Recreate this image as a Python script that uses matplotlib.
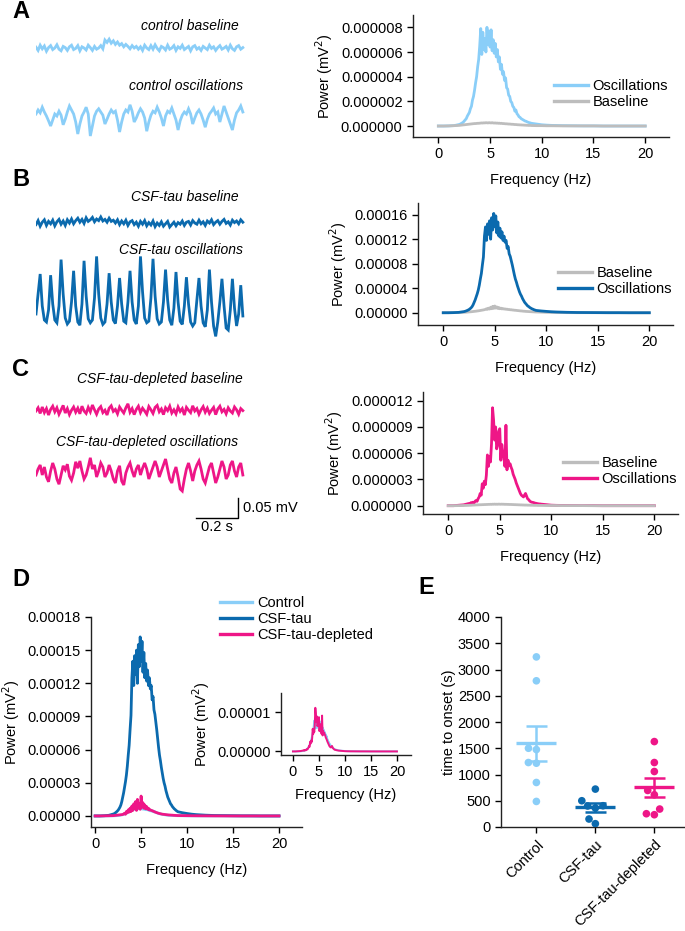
import numpy as np
import matplotlib
matplotlib.use("Agg")
import matplotlib.pyplot as plt
from matplotlib.ticker import FormatStrFormatter
import seaborn as sns

plt.rcParams.update({
    "font.family": ["Liberation Sans", "DejaVu Sans"],
    "font.size": 10.5,
    "axes.linewidth": 1.0,
    "axes.edgecolor": "#222222",
    "xtick.major.size": 4,
    "ytick.major.size": 4,
    "xtick.major.width": 1.0,
    "ytick.major.width": 1.0,
    "xtick.labelsize": 10.5,
    "ytick.labelsize": 10.5,
    "axes.labelsize": 10.5,
})

W, H = 685, 931
CTRL = "#8ACEF8"
TAU = "#0B6AAE"
DEPL = "#EE1687"
GRAY = "#BDBDBD"

# -- raw traces (uV, sampled across ~1 s) --
A_BASE_UV = [2, -6, 7, -2, 5, -8, 1, 6, -4, 0, 8, -3, -7, 4, 1, -6, 3, 7, -4, -1,
             6, -7, 3, 0, -5, 7, 1, -6, 4, -3, 0, 6, -2, 20, 14, 22, 12, 18, 9, 15,
             7, 11, 3, 9, 4, -2, 6, 0, 4, -3, 3, -6, 7, 0, -4, 6, -3, 8, -1, -7,
             4, 1, -5, 7, -3, 0, 6, -6, 3, -1, 7, -4, 0, 4, -7, 3, 6, -3, 1, -6,
             4, 0, -4, 7, -1, 3, -6, 1, 6, -3, 0, 4, -5, 7, -2, -6, 3, 6, -3, 1]
A_OSC_UV = [5, 15, 8, 22, 10, 0, -12, -25, -10, 5, 0, 12, 2, -22, -8, 10, 25, 15, 5, -15,
            -45, -20, 0, 10, 22, 5, -50, -25, 0, 12, 18, 10, 2, -20, -8, 5, 15, 8, 12, -10,
            -40, -15, 5, 15, 10, 28, 12, -15, -5, 8, 18, 10, -5, -38, -15, 2, 12, 8, 22, 10,
            -5, -25, 0, 12, 8, 20, 5, -10, -35, -12, 2, 10, 5, 18, 5, -20, -5, 8, 15, 5,
            -10, -28, -8, 5, 12, 20, 5, 10, -15, 5, 25, 10, -5, -20, -35, -10, 8, 15, 25, 10]
B_BASE_UV = [-4, 6, -8, 2, 8, -6, 4, -2, 7, -7, 3, 9, -3, 5, -6, 8, 0, 10, -2, 6,
             12, 2, 9, -1, 13, 4, 8, 14, 3, 10, 6, 15, 5, 9, 2, 12, 4, 7, 0, 8,
             -4, 5, -2, 7, -6, 3, 6, -4, 2, -8, 4, -3, 6, -7, 1, -5, 5, -9, 0, -6,
             3, -8, -2, 4, -10, -4, 2, -7, 1, -3, 5, -6, 2, 4, -5, 6, 0, -3, 7, -2,
             3, -6, 5, 0, 8, -4, 2, 6, -3, 4, 9, -1, 3, -5, 7, 1, 5, -2, 8, 2]
B_OSC_UV = [-40, 10, 60, -20, -55, -60, -30, 57, -15, -55, -62, -20, 96, 10, -50, -65, -58, -10, 68, -20,
            -60, -68, -15, 93, 5, -52, -62, -55, 0, 104, 10, -50, -66, -60, -15, 62, -10, -55, -64, -20,
            50, -15, -58, -62, -10, 68, -10, -55, -65, -20, 104, 15, -50, -62, -58, 0, 98, 5, -52, -65,
            -60, -10, 71, -5, -55, -68, -25, 65, -10, -58, -66, -20, 52, -15, -60, -70, -62, -5, 50, -20,
            -62, -72, -30, 71, -10, -70, -96, -60, -10, 48, -20, -75, -80, -30, 48, -25, -70, -40, 32, -45]
C_BASE_UV = [0, 8, -6, 10, -4, 6, -10, 4, 12, -2, 8, -8, 3, 14, -5, 6, -9, 2, 10, -3,
             7, -7, 12, 0, -6, 9, -2, 15, 3, -8, 5, 11, -4, 2, -10, 7, 13, -1, 4, -7,
             10, 2, -5, 8, 18, -3, 6, -9, 4, 12, -4, 7, 0, -8, 11, 3, -6, 9, 14, -2,
             5, -9, 8, 1, 12, -5, 3, -7, 10, -1, 6, -10, 9, 2, -4, 13, 0, 6, -8, 3,
             11, -3, 7, -6, 2, 9, -9, 5, 12, -2, 4, -7, 8, 0, -5, 10, 3, -8, 6, 1]
C_OSC_UV = [-5, 10, 20, -5, 15, -10, -22, 5, 25, 10, -15, -28, -5, 18, 8, 22, -8, -18, 0, 28,
            12, 30, 5, -15, -5, 15, 38, 10, 20, -10, 5, 25, 15, -10, 0, 20, 5, -15, -25, 5,
            18, -20, -30, 0, 15, 25, 5, -10, 10, 20, -5, 12, 25, 10, -15, 0, 15, 30, 15, -10,
            5, 20, 35, 10, -15, -25, 0, 15, -10, -40, -45, -15, 10, 25, 5, -20, 5, 20, 30, 10,
            -15, -25, -5, 15, 25, 0, -25, -10, 10, 30, 15, -15, -5, 20, 30, 5, -10, 15, 25, -5]
TRACE_DURATION_S = 0.985

# -- power spectra (units of 1e-6 mV^2) --
FREQ_HZ = [0.0, 0.5, 1.0, 1.5] + [round(2.0 + 0.1 * i, 1) for i in range(71)] + \
          [9.5, 10.0, 10.5, 11.0, 12.0, 13.0, 14.0, 15.0, 16.0, 17.0, 18.0, 19.0, 20.0]

A_OSC_PSD = [0, 0, 0.01, 0.03,
             0.12, 0.15, 0.2, 0.25, 0.3, 0.4, 0.5, 0.6, 0.8, 0.95,
             1.1, 1.4, 1.6, 2.1, 2.4, 2.9, 3.5, 4.0, 4.8, 5.4,
             6.5, 7.9, 5.8, 7.6, 6.2, 7.1, 6.0, 8.0, 6.6, 7.7,
             6.4, 7.8, 6.1, 7.0, 5.9, 6.7, 5.6, 6.2, 5.2, 5.6,
             4.6, 5.0, 4.2, 4.4, 3.7, 3.9, 3.1, 3.0, 2.5, 2.4,
             2.0, 1.9, 1.6, 1.5, 1.2, 1.3, 1.0, 0.9, 0.75, 0.7,
             0.6, 0.55, 0.5, 0.45, 0.4, 0.38, 0.33, 0.3, 0.27, 0.25, 0.22,
             0.16, 0.1, 0.07, 0.05, 0.03, 0.02, 0.01, 0.01, 0, 0, 0, 0, 0]
A_BASE_PSD = [0, 0, 0.01, 0.03,
              0.05, 0.06, 0.07, 0.08, 0.09, 0.1, 0.11, 0.12, 0.13, 0.14,
              0.15, 0.16, 0.17, 0.18, 0.19, 0.2, 0.2, 0.21, 0.22, 0.22,
              0.23, 0.24, 0.25, 0.24, 0.26, 0.25, 0.27, 0.26, 0.25, 0.27,
              0.26, 0.25, 0.27, 0.25, 0.24, 0.25, 0.23, 0.24, 0.22, 0.23,
              0.21, 0.22, 0.2, 0.2, 0.19, 0.18, 0.18, 0.17, 0.16, 0.16,
              0.15, 0.14, 0.14, 0.13, 0.12, 0.12, 0.11, 0.1, 0.1, 0.09,
              0.09, 0.08, 0.08, 0.07, 0.07, 0.06, 0.06, 0.05, 0.05, 0.05, 0.04,
              0.03, 0.03, 0.02, 0.02, 0.01, 0.01, 0.01, 0.01, 0, 0, 0, 0, 0]
B_OSC_PSD = [0, 0, 0.2, 0.6,
             1.8, 2.2, 2.8, 3.5, 4.3, 5.2, 6.5, 8.0, 10, 13,
             17, 21, 26, 31, 37, 45, 55, 64, 78, 91,
             125, 140, 118, 145, 128, 150, 120, 155, 135, 162,
             140, 158, 130, 148, 125, 138, 122, 132, 118, 125,
             115, 118, 105, 108, 96, 92, 85, 78, 70, 62,
             55, 50, 44, 39, 34, 30, 27, 23, 20, 17,
             15, 13, 11, 10, 8.5, 7.5, 6.5, 5.8, 5, 4.4, 3.8,
             2.9, 2.2, 1.6, 1.2, 0.7, 0.4, 0.3, 0.2, 0.1, 0.1, 0, 0, 0]
B_BASE_PSD = [0, 0.1, 0.2, 0.4,
              0.7, 0.8, 0.9, 1.0, 1.2, 1.3, 1.5, 1.6, 1.8, 2.0,
              2.2, 2.4, 2.6, 2.9, 3.1, 3.4, 3.7, 4.0, 4.3, 4.6,
              5.0, 5.5, 6.5, 5.5, 7.5, 6.0, 9.0, 6.5, 10.5, 7.0,
              11.0, 7.5, 9.5, 7.0, 8.5, 6.5, 7.5, 6.2, 6.8, 6.0,
              6.2, 5.6, 5.8, 5.2, 5.3, 4.8, 4.9, 4.5, 4.4, 4.1,
              4.0, 3.8, 3.6, 3.4, 3.2, 3.0, 2.9, 2.7, 2.5, 2.4,
              2.2, 2.1, 2.0, 1.9, 1.8, 1.7, 1.6, 1.5, 1.4, 1.3, 1.2,
              1.0, 0.7, 0.5, 0.4, 0.2, 0.1, 0.1, 0.05, 0, 0, 0, 0, 0]
C_OSC_PSD = [0, 0, 0.05, 0.1,
             0.25, 0.2, 0.35, 0.25, 0.4, 0.3, 0.5, 0.6, 0.5, 0.8,
             1.0, 1.4, 1.2, 2.5, 2.0, 2.8, 2.4, 3.5, 5.8, 4.5,
             5.6, 5.0, 7.1, 11.2, 9.8, 7.5, 9.0, 6.5, 6.9, 8.5,
             8.8, 5.2, 7.0, 6.0, 5.5, 4.5, 9.2, 4.1, 5.2, 4.6,
             4.8, 4.4, 4.1, 3.6, 3.3, 3.0, 2.6, 2.3, 2.0, 1.7,
             1.4, 1.2, 1.1, 1.0, 1.2, 1.4, 1.1, 0.8, 0.7, 0.55,
             0.45, 0.4, 0.38, 0.35, 0.3, 0.28, 0.25, 0.23, 0.2, 0.2, 0.18,
             0.12, 0.06, 0.04, 0.03, 0.02, 0.01, 0.01, 0, 0, 0, 0, 0, 0]
C_BASE_PSD = [0, 0, 0.01, 0.02,
              0.04, 0.05, 0.05, 0.06, 0.07, 0.07, 0.08, 0.09, 0.09, 0.1,
              0.1, 0.11, 0.11, 0.12, 0.12, 0.13, 0.13, 0.14, 0.14, 0.15,
              0.15, 0.16, 0.15, 0.17, 0.16, 0.18, 0.16, 0.17, 0.16, 0.18,
              0.17, 0.16, 0.18, 0.16, 0.17, 0.15, 0.16, 0.15, 0.15, 0.14,
              0.14, 0.14, 0.13, 0.13, 0.12, 0.12, 0.11, 0.11, 0.1, 0.1,
              0.09, 0.09, 0.08, 0.08, 0.07, 0.07, 0.07, 0.06, 0.06, 0.06,
              0.05, 0.05, 0.05, 0.04, 0.04, 0.04, 0.04, 0.03, 0.03, 0.03, 0.03,
              0.02, 0.02, 0.02, 0.01, 0.01, 0.01, 0, 0, 0, 0, 0, 0, 0]
D_DEPL_PSD = [0, 0, 0.1, 0.2,
              0.3, 0.4, 0.5, 0.6, 0.7, 0.8, 0.9, 1.0, 1.1, 1.2,
              1.3, 1.8, 2.5, 1.5, 4.0, 2.8, 5.5, 3.5, 7.0, 4.0,
              9.0, 5.0, 11.0, 6.5, 13.0, 5.0, 15.0, 7.0, 11.0, 6.0,
              18.0, 8.0, 12.0, 7.0, 10.0, 6.5, 8.5, 6.0, 7.0, 5.5,
              5.5, 5.0, 4.8, 4.4, 4.0, 3.6, 3.3, 3.0, 2.7, 2.4,
              2.2, 2.0, 1.8, 1.6, 1.5, 1.4, 1.3, 1.2, 1.1, 1.0,
              0.9, 0.85, 0.8, 0.75, 0.7, 0.6, 0.55, 0.5, 0.45, 0.4, 0.35,
              0.3, 0.25, 0.2, 0.15, 0.1, 0.05, 0.02, 0, 0, 0, 0, 0, 0]
PSD_UNIT = 1e-6

# -- time to onset (s) --
GROUPS = ["Control", "CSF-tau", "CSF-tau-depleted"]
CONTROL_ONSET = [3240, 2785, 1500, 1475, 1228, 1215, 848, 487]
TAU_ONSET = [722, 500, 405, 400, 361, 152, 63]
DEPL_ONSET = [1627, 1228, 1057, 696, 614, 342, 253, 234]

fig = plt.figure(figsize=(W / 100, H / 100), dpi=100)


def fpos(left, top, right, bottom):
    return [left / W, 1 - bottom / H, (right - left) / W, (bottom - top) / H]


def style(ax):
    ax.spines["top"].set_visible(False)
    ax.spines["right"].set_visible(False)


# -- traces column --
UV_PER_PX = 2.5
ax_tr = fig.add_axes([36 / W, 0, 210 / W, 1])
ax_tr.set_xlim(0, 1)
ax_tr.set_ylim(-H * UV_PER_PX, 0)
ax_tr.axis("off")
traces = [(A_BASE_UV, 48, CTRL), (A_OSC_UV, 116, CTRL),
          (B_BASE_UV, 223, TAU), (B_OSC_UV, 298, TAU),
          (C_BASE_UV, 411, DEPL), (C_OSC_UV, 473, DEPL)]
for vals, ypx, col in traces:
    t = np.linspace(0, TRACE_DURATION_S, len(vals))
    ax_tr.plot(t, np.array(vals) - ypx * UV_PER_PX, color=col, lw=2.0, solid_joinstyle="miter")

labels = [("control baseline", 239, 26), ("control oscillations", 243, 86),
          ("CSF-tau baseline", 239, 197), ("CSF-tau oscillations", 243, 250),
          ("CSF-tau-depleted baseline", 243, 379), ("CSF-tau-depleted oscillations", 238, 442)]
for txt, xr, yc in labels:
    fig.text(xr / W, 1 - yc / H, txt, ha="right", va="center", style="italic", fontsize=10)

# scale bar: 0.2 s, 0.05 mV
sb_x, sb_y = 0.962, -518 * UV_PER_PX
ax_tr.plot([sb_x - 0.2, sb_x, sb_x], [sb_y, sb_y, sb_y + 50], color="black", lw=1, clip_on=False)
ax_tr.text(sb_x + 0.025, sb_y + 25, "0.05 mV", ha="left", va="center", fontsize=10.5)
ax_tr.text(sb_x - 0.1, sb_y - 4, "0.2 s", ha="center", va="top", fontsize=10.5)

for letter, x, y in [("A", 12, 12), ("B", 12, 180), ("C", 12, 369), ("D", 12, 579), ("E", 418, 588)]:
    fig.text(x / W, 1 - y / H, letter, ha="left", va="center", fontsize=17, fontweight="bold")

freq = np.array(FREQ_HZ)


def spectrum_axes(pos, ylim, yticks, fmt, curves):
    ax = fig.add_axes(pos)
    style(ax)
    lines = {}
    for key, vals, col in curves:
        lines[key], = ax.plot(freq, np.array(vals) * PSD_UNIT, color=col, lw=2.0)
    ax.set_xlim(-2.45, 22.3)
    ax.set_ylim(*ylim)
    ax.set_xticks([0, 5, 10, 15, 20])
    ax.set_yticks(yticks)
    ax.yaxis.set_major_formatter(FormatStrFormatter(fmt))
    ax.set_xlabel("Frequency (Hz)", labelpad=8)
    ax.set_ylabel("Power (mV$^2$)", labelpad=4)
    return ax, lines


def place_legend(ax, handles, names, xy, handlelength=2.3):
    leg = ax.legend(handles, names, loc="center left", bbox_to_anchor=(xy[0] / W, 1 - xy[1] / H),
                    bbox_transform=fig.transFigure, frameon=False, borderpad=0, borderaxespad=0,
                    handlelength=handlelength, handletextpad=0.35, labelspacing=0.15, fontsize=10.5)
    for ln in leg.get_lines():
        ln.set_linewidth(2.4)


# A spectrum
ax_a, la = spectrum_axes(fpos(413, 15, 669, 137), (-0.89e-6, 9.0e-6), [0, 2e-6, 4e-6, 6e-6, 8e-6], "%.6f",
                         [("osc", A_OSC_PSD, CTRL), ("base", A_BASE_PSD, GRAY)])
place_legend(ax_a, [la["osc"], la["base"]], ["Oscillations", "Baseline"], (554, 94))

# B spectrum
ax_b, lb = spectrum_axes(fpos(418, 203, 673, 325), (-2.0e-5, 1.79e-4), [0, 4e-5, 8e-5, 1.2e-4, 1.6e-4], "%.5f",
                         [("base", B_BASE_PSD, GRAY), ("osc", B_OSC_PSD, TAU)])
place_legend(ax_b, [lb["base"], lb["osc"]], ["Baseline", "Oscillations"], (558, 281))

# C spectrum
ax_c, lc = spectrum_axes(fpos(423, 392, 678, 514), (-0.95e-6, 1.3e-5), [0, 3e-6, 6e-6, 9e-6, 1.2e-5], "%.6f",
                         [("osc", C_OSC_PSD, DEPL), ("base", C_BASE_PSD, GRAY)])
place_legend(ax_c, [lc["base"], lc["osc"]], ["Baseline", "Oscillations"], (563, 471))

# D: overlay
ax_d = fig.add_axes(fpos(91, 617, 302, 827))
style(ax_d)
hd = []
for vals, col in [(A_OSC_PSD, CTRL), (B_OSC_PSD, TAU), (D_DEPL_PSD, DEPL)]:
    ln, = ax_d.plot(freq, np.array(vals) * PSD_UNIT, color=col, lw=2.0)
    hd.append(ln)
ax_d.set_xlim(-0.45, 22.5)
ax_d.set_ylim(-1.0e-5, 1.8e-4)
ax_d.set_xticks([0, 5, 10, 15, 20])
ax_d.set_yticks(np.arange(0, 1.81e-4, 3e-5))
ax_d.yaxis.set_major_formatter(FormatStrFormatter("%.5f"))
ax_d.set_xlabel("Frequency (Hz)", labelpad=8)
ax_d.set_ylabel("Power (mV$^2$)", labelpad=4)
place_legend(ax_d, hd, GROUPS, (220, 619), handlelength=2.2)

# D inset
ax_i = fig.add_axes(fpos(281, 693, 411, 755))
style(ax_i)
ax_i.plot(freq, np.array(A_OSC_PSD) * PSD_UNIT, color=CTRL, lw=1.4)
ax_i.plot(freq, np.array(C_OSC_PSD) * PSD_UNIT, color=DEPL, lw=1.4)
ax_i.set_xlim(-2.3, 22.7)
ax_i.set_ylim(-0.092e-5, 1.5e-5)
ax_i.set_xticks([0, 5, 10, 15, 20])
ax_i.set_yticks([0, 1e-5])
ax_i.yaxis.set_major_formatter(FormatStrFormatter("%.5f"))
ax_i.set_xlabel("Frequency (Hz)", labelpad=6)
ax_i.set_ylabel("Power (mV$^2$)", labelpad=4)

# E: time to onset
ax_e = fig.add_axes(fpos(501, 617, 685, 827))
style(ax_e)
onsets = [CONTROL_ONSET, TAU_ONSET, DEPL_ONSET]
cols = [CTRL, TAU, DEPL]
xs, ys = [], []
for g, vals in zip(GROUPS, onsets):
    xs += [g] * len(vals)
    ys += vals
sns.swarmplot(x=xs, y=ys, hue=xs, order=GROUPS, hue_order=GROUPS, palette=cols,
              size=5.5, ax=ax_e, legend=False, linewidth=0, zorder=3)
for i, (vals, col) in enumerate(zip(onsets, cols)):
    v = np.array(vals, dtype=float)
    m = v.mean()
    sem = v.std(ddof=1) / np.sqrt(len(v))
    ax_e.hlines(m, i - 0.34, i + 0.34, color=col, lw=2.4, zorder=2)
    ax_e.vlines(i, m - sem, m + sem, color=col, lw=1.8, zorder=2)
    ax_e.hlines([m - sem, m + sem], i - 0.18, i + 0.18, color=col, lw=1.8, zorder=2)
ax_e.set_xlim(-0.6, 2.52)
ax_e.set_ylim(0, 4000)
ax_e.set_yticks(range(0, 4001, 500))
ax_e.set_xticks(range(3))
ax_e.set_xticklabels(GROUPS, rotation=45, ha="right", rotation_mode="anchor")
ax_e.set_ylabel("time to onset (s)", labelpad=1)
ax_e.set_xlabel("")

fig.savefig("out.png", dpi=100)
